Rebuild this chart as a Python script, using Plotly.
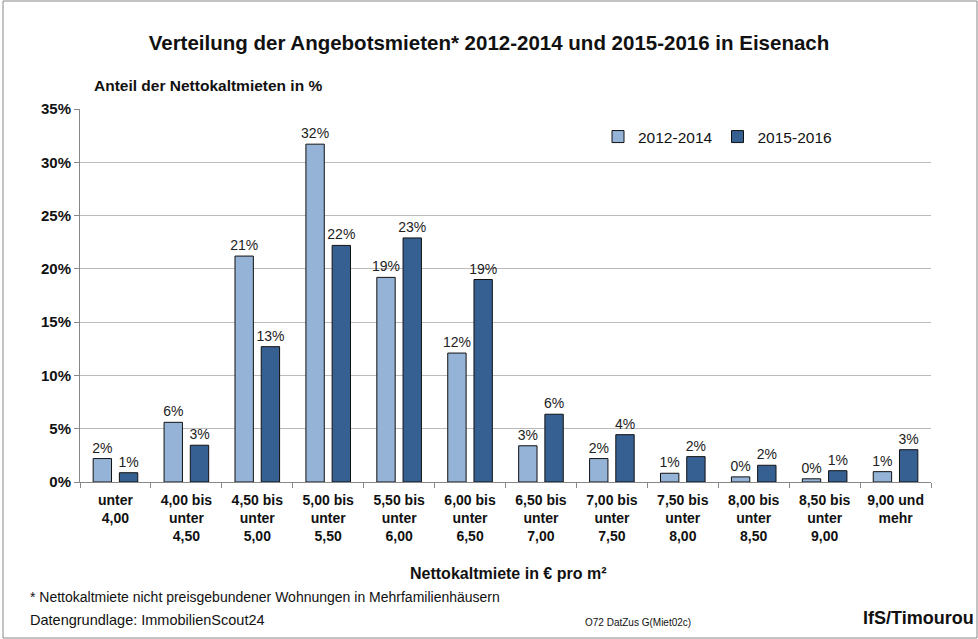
import plotly.graph_objects as go

categories = ["unter<br>4,00", "4,00 bis<br>unter<br>4,50", "4,50 bis<br>unter<br>5,00",
              "5,00 bis<br>unter<br>5,50", "5,50 bis<br>unter<br>6,00", "6,00 bis<br>unter<br>6,50",
              "6,50 bis<br>unter<br>7,00", "7,00 bis<br>unter<br>7,50", "7,50 bis<br>unter<br>8,00",
              "8,00 bis<br>unter<br>8,50", "8,50 bis<br>unter<br>9,00", "9,00 und<br>mehr"]
s2012_2014 = [2.2, 5.6, 21.2, 31.7, 19.2, 12.1, 3.4, 2.2, 0.82, 0.48, 0.3, 0.97]
s2015_2016 = [0.87, 3.45, 12.7, 22.2, 22.9, 19.0, 6.36, 4.44, 2.38, 1.57, 1.06, 3.03]
series_names = ["2012-2014", "2015-2016"]
y_ticks = [0, 5, 10, 15, 20, 25, 30, 35]
y_tick_labels = ["0%", "5%", "10%", "15%", "20%", "25%", "30%", "35%"]

FONT = "Liberation Sans, Arial, sans-serif"

fig = go.Figure()
for name, vals, col in [(series_names[0], s2012_2014, "#95B3D7"),
                        (series_names[1], s2015_2016, "#366092")]:
    fig.add_trace(go.Bar(
        x=categories, y=vals, name=name,
        marker=dict(color=col, line=dict(color="#111111", width=1)),
        texttemplate="%{y:.0f}%", textposition="outside", constraintext="none",
        textfont=dict(family=FONT, size=14, color="#222222"),
        cliponaxis=False,
    ))

L, R, T, B = 80, 47, 109, 157
W, H = 978, 639
pw, ph = W - L - R, H - T - B

def px(x):
    return (x - L) / pw

def py(y):
    return (H - B - y) / ph

fig.update_layout(
    width=W, height=H,
    margin=dict(l=L, r=R, t=T, b=B, pad=0),
    paper_bgcolor="white", plot_bgcolor="white",
    barmode="group", bargap=0.26, bargroupgap=0.3,
    font=dict(family=FONT, size=12, color="#111111"),
    showlegend=True,
    legend=dict(orientation="h", x=px(598), y=py(120), xanchor="left", yanchor="top",
                font=dict(family=FONT, size=15.5, color="#111111"),
                bgcolor="rgba(0,0,0,0)", itemwidth=30, traceorder="normal"),
    title=dict(text="<b>Verteilung der Angebotsmieten* 2012-2014 und 2015-2016 in Eisenach</b>",
               x=0.5, xanchor="center", y=1 - 43 / H, yanchor="middle",
               font=dict(family=FONT, size=20.5, color="#111111")),
)
fig.update_xaxes(
    type="category", tickson="boundaries", ticks="outside", ticklen=5,
    tickcolor="#888888", showline=True, linecolor="#888888", linewidth=1,
    showgrid=False, ticklabelstandoff=5,
    tickfont=dict(family=FONT, size=14, color="#111111", weight="bold"),
)
fig.update_yaxes(
    range=[0, 35], tickmode="array", tickvals=y_ticks, ticktext=y_tick_labels,
    showgrid=True, gridcolor="#BBBBBB", gridwidth=1,
    showline=True, linecolor="#888888", linewidth=1,
    ticks="outside", ticklen=5, tickcolor="#888888",
    tickfont=dict(family=FONT, size=15, color="#111111", weight="bold"),
    zeroline=False,
)

annotations = [
    dict(text="<b>Anteil der Nettokaltmieten in %</b>", x=px(92), y=py(86),
         xanchor="left", yanchor="middle", font=dict(size=15.5)),
    dict(text="<b>Nettokaltmiete in € pro m²</b>", x=px(508), y=py(573),
         xanchor="center", yanchor="middle", font=dict(size=16)),
    dict(text="* Nettokaltmiete nicht preisgebundener Wohnungen in Mehrfamilienhäusern",
         x=px(28), y=py(597), xanchor="left", yanchor="middle", font=dict(size=14)),
    dict(text="Datengrundlage: ImmobilienScout24", x=px(28), y=py(620),
         xanchor="left", yanchor="middle", font=dict(size=14.5)),
    dict(text="O72 DatZus G(Miet02c)", x=px(583), y=py(622),
         xanchor="left", yanchor="middle", font=dict(size=10)),
    dict(text="<b>IfS/Timourou</b>", x=px(976), y=py(618),
         xanchor="right", yanchor="middle", font=dict(size=18)),
]
for a in annotations:
    a.update(xref="paper", yref="paper", showarrow=False)
    a["font"] = dict(family=FONT, color="#111111", **a["font"])
fig.update_layout(annotations=annotations)

fig.add_shape(type="rect", xref="paper", yref="paper",
              x0=px(3), x1=px(977), y0=py(638), y1=py(1),
              line=dict(color="#888888", width=1), fillcolor="rgba(0,0,0,0)", layer="above")

fig.write_html("out.html", config={"displayModeBar": False},
               post_script="document.body.style.margin='0';document.body.style.padding='0';")
